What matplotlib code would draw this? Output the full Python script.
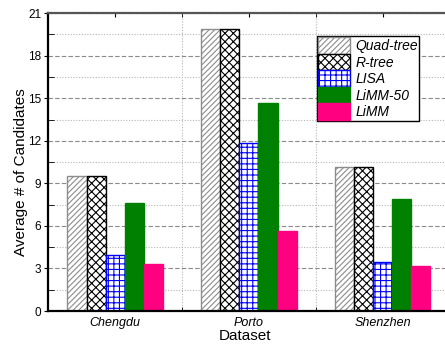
import matplotlib
matplotlib.use('Agg')
import matplotlib.pyplot as plt
import numpy as np
from matplotlib.ticker import MultipleLocator

plt.rcParams['font.family'] = ['Liberation Sans', 'DejaVu Sans']
plt.rcParams['hatch.linewidth'] = 0.8

# Data
datasets = ['Chengdu', 'Porto', 'Shenzhen']
methods = ['Quad-tree', 'R-tree', 'LISA', 'LiMM-50', 'LiMM']
quad_tree = [9.5, 19.85, 10.15]
r_tree = [9.5, 19.85, 10.15]
lisa = [3.95, 11.85, 3.45]
limm_50 = [7.6, 14.65, 7.9]
limm = [3.3, 5.65, 3.15]

series = [quad_tree, r_tree, lisa, limm_50, limm]
styles = [
    dict(color='white', edgecolor='#8c8c8c', hatch='//////'),
    dict(color='white', edgecolor='black', hatch='xxxx'),
    dict(color='white', edgecolor='#0000ff', hatch='+++'),
    dict(color='#008000', edgecolor='#008000'),
    dict(color='#ff0080', edgecolor='#ff0080'),
]

fig = plt.figure(figsize=(4.45, 3.46), dpi=100)
ax = fig.add_axes([0.108, 0.101, 0.903, 0.861])

x = np.arange(len(datasets))
width = 0.142
for i, (vals, st) in enumerate(zip(series, styles)):
    ax.bar(x + (i - 2) * width, vals, width, label=methods[i], linewidth=1.0, **st)

ax.set_xlim(-0.5, 2.5)
ax.set_ylim(0, 21)
ax.set_axisbelow(True)

# Ticks and grid
ax.yaxis.set_major_locator(MultipleLocator(3))
ax.yaxis.set_minor_locator(MultipleLocator(1.5))
ax.set_xticks(x)
ax.set_xticklabels(datasets, fontstyle='italic', fontsize=9)
ax.set_xticks([0.5, 1.5], minor=True)
ax.tick_params(axis='x', which='major', direction='in', length=3, top=True, pad=4)
ax.tick_params(axis='x', which='minor', direction='in', length=3, top=True)
ax.tick_params(axis='y', which='major', direction='out', length=3, labelsize=8.5, pad=2)
ax.tick_params(axis='y', which='minor', direction='in', length=4)

ax.yaxis.grid(True, which='major', color='#8a8a8a', linestyle=(0, (4, 2)), linewidth=0.8)
ax.yaxis.grid(True, which='minor', color='#b5b5b5', linestyle=(0, (1, 1.5)), linewidth=0.8)
ax.xaxis.grid(True, which='minor', color='#b5b5b5', linestyle=(0, (1, 1.5)), linewidth=0.8)
ax.xaxis.grid(False, which='major')

for side in ['left', 'bottom']:
    ax.spines[side].set_linewidth(1.6)
ax.spines['top'].set_color('#555555')
ax.spines['top'].set_linewidth(1.6)

ax.set_xlabel('Dataset', fontsize=11)
ax.set_ylabel('Average # of Candidates', fontsize=11)
ax.xaxis.set_label_coords(0.49, -0.06)
ax.yaxis.set_label_coords(-0.05, 0.466)

leg = ax.legend(loc='upper left', bbox_to_anchor=(0.669, 0.923),
                prop={'style': 'italic', 'size': 10},
                frameon=True, fancybox=False, framealpha=1, edgecolor='black',
                borderpad=0.1, labelspacing=0.0, handlelength=2.3, handleheight=1.45,
                handletextpad=0.35, borderaxespad=0)
leg.get_frame().set_linewidth(1.0)

fig.savefig('out.png', dpi=100)
